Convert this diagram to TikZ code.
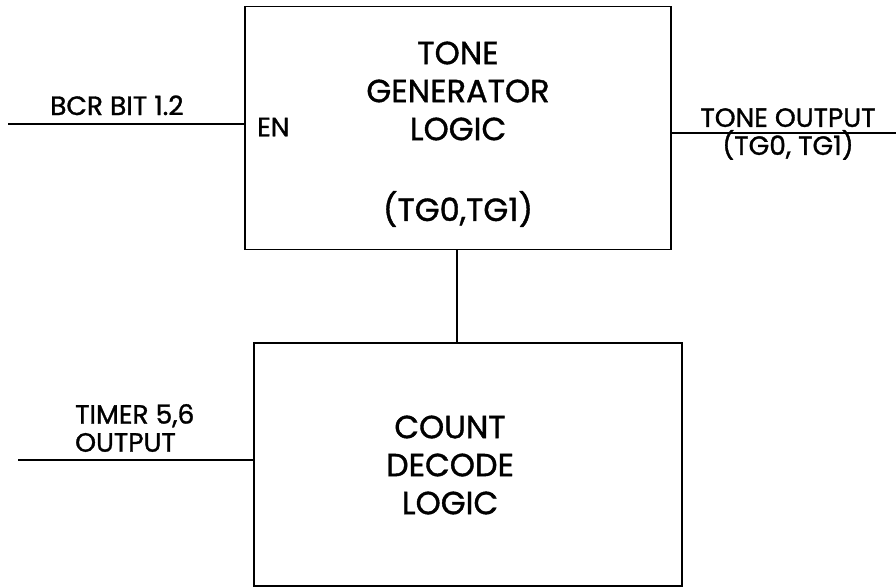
\documentclass[tikz,border=0pt]{standalone}
\usepackage{fontspec}
\setmainfont{Poppins}[FakeBold=1.2]
\begin{document}
\begin{tikzpicture}[x=1pt,y=-1pt,
  block/.style={draw,line width=1.2pt,rectangle,inner sep=0pt},
  wire/.style={line width=1.2pt},
  bigtxt/.style={inner sep=0pt,align=center,font=\fontsize{32}{38}\selectfont},
  lbltxt/.style={inner sep=0pt,align=left,font=\fontsize{26.5}{28}\selectfont}]
\useasboundingbox (0,0) rectangle (896,587);
\node[block,minimum width=426pt,minimum height=243pt] (tg) at (458,128) {};
\node[block,minimum width=428pt,minimum height=243pt] (cd) at (468,464.5) {};
\node[bigtxt] (tgtxt) at (458,91) {TONE\\GENERATOR\\LOGIC};
\node[bigtxt] (tgsub) at (458,209) {(TG0,TG1)};
\node[bigtxt] (cdtxt) at (450,465) {COUNT\\DECODE\\LOGIC};
\node[lbltxt,anchor=west] (en) at (257,127) {EN};
\node[lbltxt,anchor=base west] (bcr) at (50,115) {BCR BIT 1.2};
\node[lbltxt,anchor=center,align=center] (tone) at (788,134) {TONE OUTPUT\\(TG0, TG1)};
\node[lbltxt,anchor=west] (tim) at (75,428) {TIMER 5,6\\OUTPUT};
\coordinate (bcrin) at (8,124);
\coordinate (toneout) at (896,133);
\coordinate (timin) at (18,460);
\coordinate (vc) at (457,0);
\draw[wire] (bcrin) -- (bcrin -| tg.west);
\draw[wire] (tg.east |- toneout) -- (toneout);
\draw[wire] (timin) -- (timin -| cd.west);
\draw[wire] (vc |- tg.south) -- (vc |- cd.north);
\end{tikzpicture}
\end{document}
